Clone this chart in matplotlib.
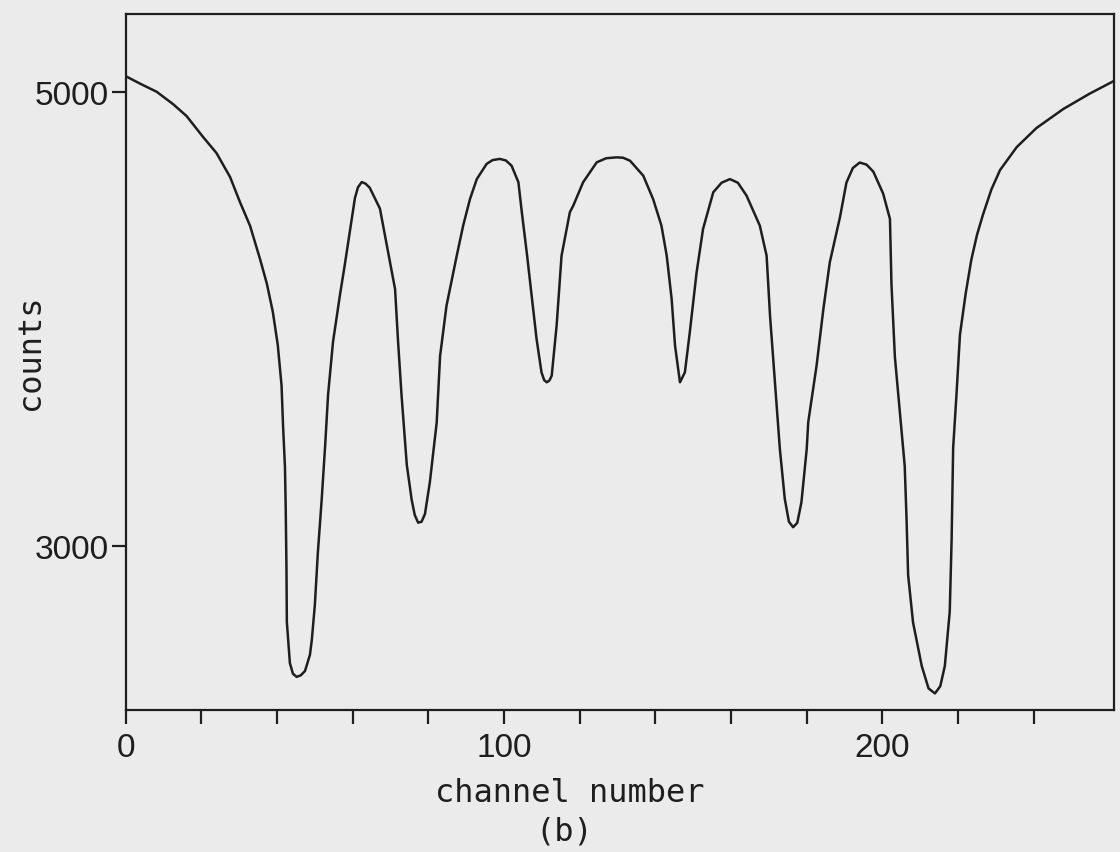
import matplotlib.pyplot as plt

# spectrum: channel number vs counts
channel = [0, 3.8, 8.2, 12.5, 16.1, 20.4, 24.0, 27.6, 30.2, 32.9, 35.5, 37.3, 38.9,
           40.2, 41.2, 41.6, 42.1, 42.3, 42.5, 42.6, 43.4, 44.2, 45.2, 46.3, 47.4, 48.7,
           49.2, 50.0, 50.8, 51.8, 52.7, 53.5, 54.8, 56.6, 57.9, 59.3, 60.6, 61.4, 62.4,
           63.4, 64.5, 67.2, 69.3, 71.2, 72.0, 72.9, 74.3, 75.6, 76.4, 77.3, 78.2, 79.1,
           80.4, 82.2, 83.1, 84.8, 87.5, 89.2, 91.0, 92.8, 95.4, 97.0, 98.9, 100.5,
           102.0, 103.8, 104.7, 106.0, 107.3, 108.6, 109.9, 110.6, 111.3, 112.0, 112.6,
           113.9, 115.2, 117.4, 118.3, 120.9, 124.5, 127.0, 129.8, 131.5, 133.3, 136.8,
           139.4, 141.6, 143.0, 144.3, 145.2, 146.5, 147.8, 149.1, 150.9, 152.6,
           155.3, 157.5, 159.7, 161.8, 164.1, 167.6, 169.4, 170.3, 171.6, 172.9, 174.2,
           175.3, 176.4, 177.5, 178.6, 180.0, 180.4, 182.6, 184.4, 186.1, 188.8,
           190.5, 192.2, 194.0, 195.8, 197.6, 200.2, 202.0, 202.4, 203.3, 204.6, 205.9,
           206.4, 206.8, 208.1, 210.4, 212.2, 213.9, 215.3, 216.5, 217.8, 218.3, 218.7,
           219.6, 220.5, 222.0, 223.5, 225.0, 226.6, 228.8, 231.1, 235.5, 240.7, 247.8,
           254.8, 261.1]
counts = [5070, 5037, 5001, 4947, 4894, 4803, 4731, 4625, 4515, 4409, 4264, 4156, 4030,
          3885, 3706, 3527, 3347, 3166, 2897, 2663, 2482, 2435, 2421, 2428, 2447, 2518,
          2584, 2738, 2970, 3201, 3435, 3666, 3898, 4101, 4237, 4392, 4533, 4580, 4603,
          4596, 4578, 4486, 4300, 4131, 3898, 3666, 3356, 3201, 3135, 3101, 3105, 3139,
          3280, 3542, 3836, 4058, 4278, 4411, 4528, 4616, 4683, 4700, 4705, 4698,
          4675, 4602, 4470, 4293, 4102, 3911, 3764, 3730, 3720, 3728, 3749,
          3970, 4278, 4470, 4499, 4602, 4690, 4708, 4712, 4710, 4697, 4631,
          4528, 4411, 4278, 4087, 3881, 3720, 3764, 3941, 4205, 4396,
          4558, 4600, 4616, 4600, 4543, 4411, 4278, 4014, 3720, 3426, 3206,
          3105, 3081, 3100, 3191, 3426, 3544, 3793, 4043, 4249, 4449,
          4601, 4665, 4689, 4680, 4649, 4552, 4440, 4151, 3832, 3590, 3351,
          3109, 2870, 2661, 2469, 2370, 2348, 2380, 2469, 2709, 3029, 3430,
          3671, 3930, 4110, 4260, 4370, 4460, 4570, 4656, 4757, 4841, 4925,
          4993, 5048]

xticks_all = [0, 20, 40, 60, 80, 100, 120, 140, 160, 180, 200, 220, 240]
xtick_labels = ['0', '', '', '', '', '100', '', '', '', '', '200', '', '']
yticks = [3000, 5000]

bg = '#ebebeb'
ink = '#1e1e1e'
mono = ['DejaVu Sans Mono']
sans = ['Liberation Sans', 'DejaVu Sans']

fig = plt.figure(figsize=(11.2, 8.53), dpi=100, facecolor=bg)
ax = fig.add_axes([0.1122, 0.1665, 0.8824, 0.8159], facecolor=bg)

ax.plot(channel, counts, color=ink, lw=1.8, solid_joinstyle='round')

ax.set_xlim(0, 261.2)
ax.set_ylim(2275, 5344)
ax.set_xticks(xticks_all)
ax.set_xticklabels(xtick_labels, family=sans, fontsize=24, color=ink)
ax.set_yticks(yticks)
ax.set_yticklabels([str(v) for v in yticks], family=sans, fontsize=24, color=ink)
ax.tick_params(direction='out', length=10, width=1.6, colors=ink)
ax.tick_params(axis='x', pad=6)
ax.tick_params(axis='y', pad=2)
for s in ax.spines.values():
    s.set_linewidth(1.6)
    s.set_color(ink)

fig.text(0.509, 0.070, 'channel number', ha='center', va='center',
         family=mono, fontsize=23, color=ink)
fig.text(0.504, 0.025, '(b)', ha='center', va='center',
         family=mono, fontsize=23, color=ink)
fig.text(0.027, 0.587, 'counts', ha='center', va='center', rotation=90,
         family=mono, fontsize=23, color=ink)

fig.savefig('out.png', dpi=100, facecolor=bg)
